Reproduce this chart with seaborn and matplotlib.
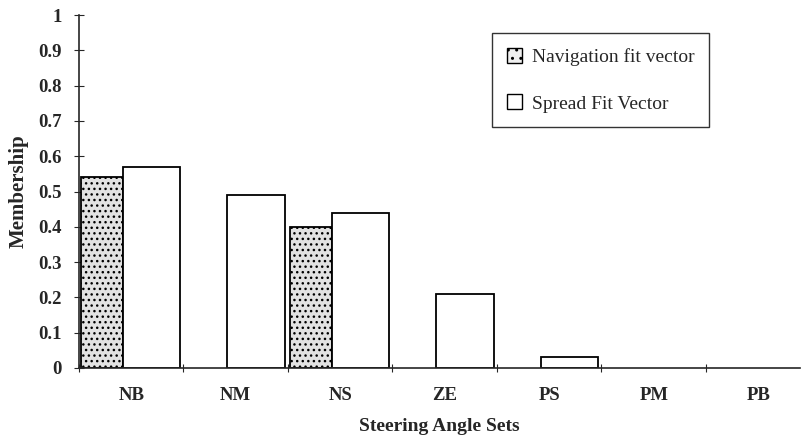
import pandas as pd
import matplotlib.pyplot as plt
import numpy as np
import seaborn as sns
from matplotlib.patches import Patch

sets = ['NB', 'NM', 'NS', 'ZE', 'PS', 'PM', 'PB']
navigation = [0.54, 0.0, 0.40, 0.0, 0.0, 0.0, 0.0]
spread = [0.57, 0.49, 0.44, 0.21, 0.03, 0.0, 0.0]
series = ['Navigation fit vector', 'Spread Fit Vector']

df = pd.DataFrame({
    'Steering Angle Sets': sets * 2,
    'Membership': navigation + spread,
    'series': [series[0]] * len(sets) + [series[1]] * len(sets),
})

sns.set_style('ticks')
plt.rcParams['font.family'] = ['Liberation Serif', 'DejaVu Serif']
plt.rcParams['hatch.color'] = '#6a6a6a'

f = plt.figure(figsize=(8.02, 4.42), dpi=100)
ax = f.add_axes([79 / 802, 1 - 368 / 442, (800 - 79) / 802, (368 - 15) / 442])

sns.barplot(ax=ax, data=df, x='Steering Angle Sets', y='Membership', hue='series',
            palette=['#d4d4d4', 'white'], edgecolor='black', linewidth=1.3,
            saturation=1, legend=False)

# restyle bars: narrow stippled navigation bar, wider white spread bar
for c, container in enumerate(ax.containers):
    for i, p in enumerate(container.patches):
        if c == 0:
            p.set_x(i - 0.48)
            p.set_width(0.40)
            p.set_hatch('...')
            p.set_facecolor('#e2e2e2')
        else:
            p.set_x(i - 0.08)
            p.set_width(0.55)
            p.set_facecolor('white')
        if p.get_height() == 0:
            p.set_visible(False)

ax.set_xlim(-0.5, 6.4)
ax.set_ylim(0, 1)
ax.set_yticks(np.arange(0, 1.01, 0.1))
ax.set_yticklabels(['0', '0.1', '0.2', '0.3', '0.4', '0.5', '0.6', '0.7', '0.8', '0.9', '1'],
                   fontsize=13.5, fontweight='bold')
ax.set_xticks(range(len(sets)))
ax.set_xticklabels(sets, fontsize=13.5, fontweight='bold')
ax.set_xticks(np.arange(-0.5, 6.5, 1), minor=True)
ax.tick_params(axis='x', which='major', length=0, pad=14)
ax.tick_params(axis='x', which='minor', length=6, direction='inout', width=0.8)
ax.tick_params(axis='y', length=7, direction='inout', width=0.8, pad=9)
sns.despine(ax=ax)
for s in ['left', 'bottom']:
    ax.spines[s].set_linewidth(1.2)

ax.set_xlabel('Steering Angle Sets', fontsize=14, fontweight='bold', labelpad=10)
ax.set_ylabel('Membership', fontsize=15, fontweight='bold', labelpad=7)

handles = [Patch(facecolor='#f0f0f0', edgecolor='black', hatch='..', label=series[0]),
           Patch(facecolor='white', edgecolor='black', label=series[1])]
leg = ax.legend(handles=handles, loc='upper left', bbox_to_anchor=(0.573, 0.948),
                fontsize=14, frameon=True, fancybox=False, edgecolor='black',
                handlelength=0.8, handleheight=0.8, labelspacing=1.45,
                borderpad=0.75, borderaxespad=0, handletextpad=0.5)
leg.get_frame().set_linewidth(1.0)

f.savefig('out.png', dpi=100)
